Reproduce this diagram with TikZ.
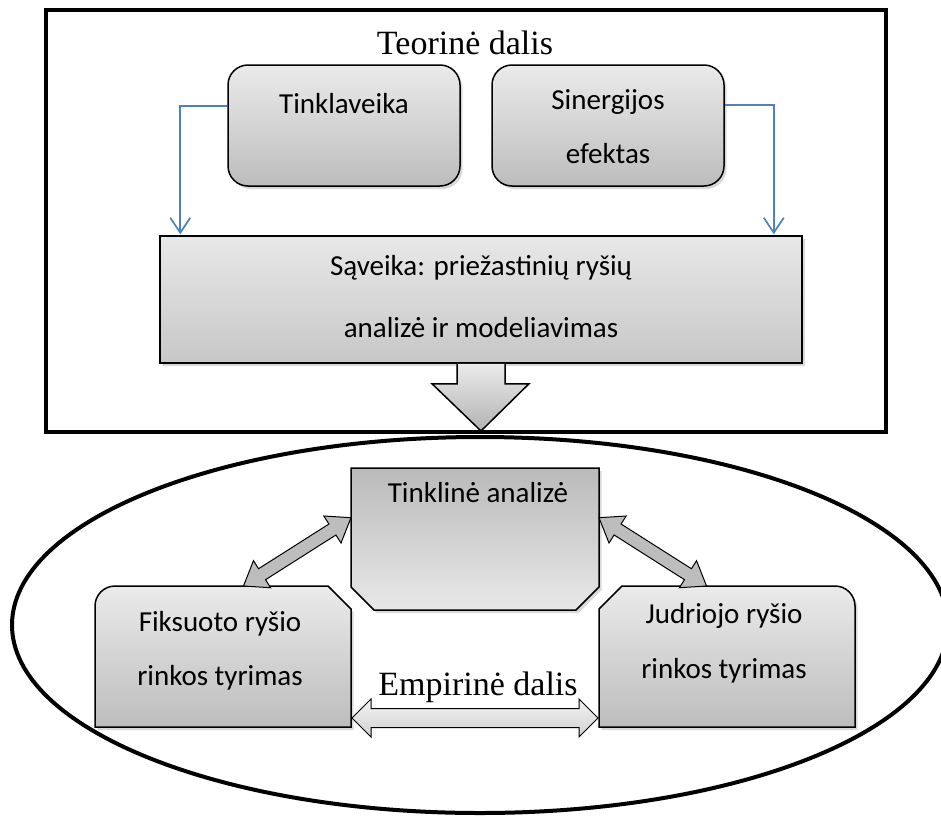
\documentclass[tikz,border=0pt]{standalone}
\usepackage{fontspec}
\setmainfont{Carlito}
\newfontfamily\tnr{Liberation Serif}
\usetikzlibrary{calc,shadows,arrows.meta}
\definecolor{linkblue}{HTML}{4F81BD}
% double block arrow between two points: #1 A, #2 B, #3 shaft half width, #4 head half width, #5 head length, #6 style
\newcommand\dblarr[6]{%
  \path ($(#1)!#5!(#2)$) coordinate (da2) ($(#2)!#5!(#1)$) coordinate (da3);
  \draw[#6] (#1) -- ($(da2)!#4!90:(#2)$) -- ($(da2)!#3!90:(#2)$) -- ($(da3)!#3!-90:(#1)$)
    -- ($(da3)!#4!-90:(#1)$) -- (#2) -- ($(da3)!#4!90:(#1)$) -- ($(da3)!#3!90:(#1)$)
    -- ($(da2)!#3!-90:(#2)$) -- ($(da2)!#4!-90:(#2)$) -- cycle;}
\begin{document}
\begin{tikzpicture}[x=1pt,y=-1pt,
  boxline/.style={draw=black, line width=1.5pt},
  shadowed/.style={drop shadow={shadow xshift=2.5pt, shadow yshift=-3pt, opacity=0.3}},
  lightgrad/.style={top color=black!8, bottom color=black!26},
  revgrad/.style={top color=black!27, bottom color=black!9},
  anchorbox/.style={draw=none, inner sep=0pt, outer sep=0pt},
  txt/.style={inner sep=0pt, anchor=base, font=\fontsize{29}{35}\selectfont},
  ttl/.style={inner sep=0pt, anchor=base, font=\tnr\fontsize{34}{40}\selectfont},
  bluearr/.style={draw=linkblue, line width=1.7pt, -{Straight Barb[length=15pt,width=20pt]}},
  diagarr/.style={draw=black, line width=1pt, fill=black!26},
  horarr/.style={draw=black, line width=1pt, top color=black!5, bottom color=black!18},
]
\useasboundingbox (0,0) rectangle (941,816);

% frames
\draw[line width=4pt] (46,10.5) rectangle (886,431.5);
\draw[line width=4pt] (480,625) ellipse [x radius=468, y radius=188];

% top part
\node[ttl] (teor) at (465,55) {Teorinė dalis};

\node[boxline, lightgrad, shadowed, rounded corners=20pt, minimum width=232pt, minimum height=121pt, inner sep=0pt] (tink) at (344,125.5) {};
\node[txt] (tinktxt) at (344,113) {Tinklaveika};

\node[boxline, lightgrad, shadowed, rounded corners=20pt, minimum width=232pt, minimum height=121pt, inner sep=0pt] (sin) at (608,125.5) {};
\node[txt] (sintxt1) at (608,109) {Sinergijos};
\node[txt] (sintxt2) at (608,163) {efektas};

\node[boxline, top color=black!9, bottom color=black!22, shadowed, minimum width=642pt, minimum height=127pt, inner sep=0pt] (sav) at (481,299.5) {};
\node[txt] (savtxt1) at (481,275) {Sąveika: priežastinių ryšių};
\node[txt] (savtxt2) at (481,337) {analizė ir modeliavimas};

\draw[bluearr] ($(tink.north west)!0.34!(tink.south west)$) -| ($(sav.north west)+(21,-1)$);
\draw[bluearr] ($(sin.north east)!0.33!(sin.south east)$) -| ($(sav.north east)+(-29,-1)$);

% down block arrow from Saveika to the lower part
\coordinate (tipdown) at (481,431);
\fill[top color=black!8, bottom color=black!30] ($(sav.south)+(-24,0)$) -- ($(sav.south)+(-24,20)$) -- ($(sav.south)+(-49,20)$) -- (tipdown) -- ($(sav.south)+(48,20)$) -- ($(sav.south)+(24,20)$) -- ($(sav.south)+(24,0)$) -- cycle;
\draw[line width=1.5pt, line join=miter] ($(sav.south)+(-24,0)$) -- ($(sav.south)+(-24,20)$) -- ($(sav.south)+(-49,20)$) -- (tipdown) -- ($(sav.south)+(48,20)$) -- ($(sav.south)+(24,20)$) -- ($(sav.south)+(24,0)$);

% lower part
\node[anchorbox, minimum width=248pt, minimum height=142pt] (tinan) at (475,539) {};
\draw[boxline, revgrad, shadowed] (351,468) -- (599,468) -- (599,587) -- (576,610) -- (374,610) -- (351,587) -- cycle;
\node[txt] (tinantxt) at (478,502) {Tinklinė analizė};

\node[anchorbox, minimum width=256pt, minimum height=141pt] (fix) at (223,656.5) {};
\draw[boxline, lightgrad, shadowed] (95,727) -- (95,606) .. controls (95,595) and (104,586) .. (115,586) -- (328,586) -- (351,609) -- (351,727) -- cycle;
\node[txt] (fixtxt1) at (220,631) {Fiksuoto ryšio};
\node[txt] (fixtxt2) at (220,685) {rinkos tyrimas};

\node[anchorbox, minimum width=256pt, minimum height=141pt] (jud) at (727,656.5) {};
\draw[boxline, lightgrad, shadowed] (599,727) -- (599,609) -- (622,586) -- (835,586) .. controls (846,586) and (855,595) .. (855,606) -- (855,727) -- cycle;
\node[txt] (judtxt1) at (724,623) {Judriojo ryšio};
\node[txt] (judtxt2) at (724,678) {rinkos tyrimas};

\node[ttl] (emp) at (478,695) {Empirinė dalis};

% double arrows
\coordinate (fixtop) at ($(fix.north west)!0.58!(fix.north east)$);
\coordinate (tinanl) at ($(tinan.north west)!0.35!(tinan.south west)$);
\coordinate (tinanr) at ($(tinan.north east)!0.35!(tinan.south east)$);
\coordinate (judtop) at ($(jud.north west)!0.42!(jud.north east)$);
\coordinate (fixr) at ($(fix.south east)+(1,-9)$);
\coordinate (judl) at ($(jud.south west)+(-1,-9)$);
\dblarr{fixtop}{tinanl}{6.5pt}{16pt}{22pt}{diagarr}
\dblarr{tinanr}{judtop}{6.5pt}{16pt}{22pt}{diagarr}
\dblarr{fixr}{judl}{9.5pt}{19pt}{19pt}{horarr}
\end{tikzpicture}
\end{document}
